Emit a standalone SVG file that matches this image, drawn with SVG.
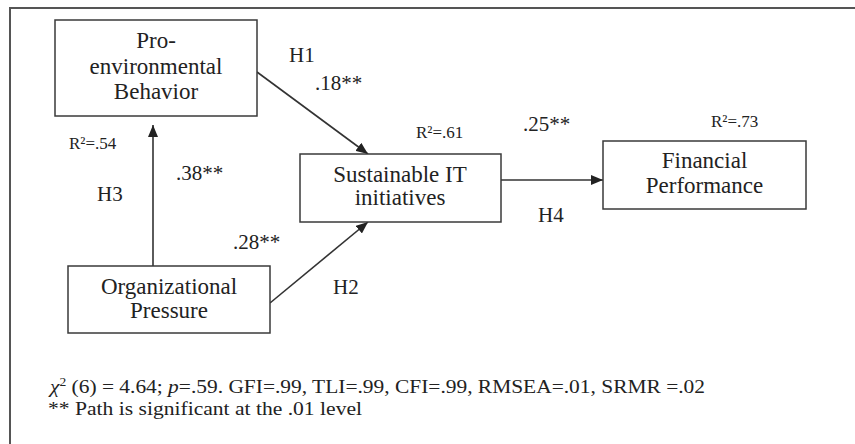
<svg xmlns="http://www.w3.org/2000/svg" width="855" height="444" viewBox="0 0 855 444">
<style>
.box{fill:#fff;stroke:#3a3a3a;stroke-width:1.5}
.nt{font-family:"Liberation Serif","Times New Roman",serif;font-size:23px;fill:#222;text-anchor:middle}
.lb{font-family:"Liberation Serif","Times New Roman",serif;font-size:21px;fill:#222}
.r2{font-family:"Liberation Serif","Times New Roman",serif;font-size:17px;fill:#222}
.ft{font-family:"Liberation Serif","Times New Roman",serif;font-size:19px;fill:#222}
.edge{stroke:#333;stroke-width:1.6;fill:none;marker-end:url(#ah)}
</style>
<defs>
<marker id="ah" viewBox="0 0 12 10" refX="12" refY="5" markerWidth="12" markerHeight="10" markerUnits="userSpaceOnUse" orient="auto">
<path d="M0,0 L12,5 L0,10 Z" fill="#222"/>
</marker>
</defs>
<rect width="855" height="444" fill="#fff"/>
<g id="frame">
<path d="M10,444 L10,8 L855,8" fill="none" stroke="#555" stroke-width="2"/>
</g>
<g id="connectors">
<line class="edge" x1="257" y1="72" x2="368" y2="154"/>
<line class="edge" x1="153" y1="266" x2="153" y2="125"/>
<line class="edge" x1="270" y1="303" x2="368" y2="222"/>
<line class="edge" x1="501" y1="180" x2="603" y2="180"/>
</g>
<g id="node-peb">
<rect class="box" x="55" y="20" width="202" height="96"/>
<text class="nt" x="156" y="48">Pro-</text>
<text class="nt" x="156" y="74">environmental</text>
<text class="nt" x="156" y="99">Behavior</text>
</g>
<g id="node-sit">
<rect class="box" x="300" y="154" width="201" height="68"/>
<text class="nt" x="400" y="182">Sustainable IT</text>
<text class="nt" x="400" y="205">initiatives</text>
</g>
<g id="node-fp">
<rect class="box" x="603" y="141" width="203" height="68"/>
<text class="nt" x="704.5" y="168">Financial</text>
<text class="nt" x="704.5" y="193">Performance</text>
</g>
<g id="node-op">
<rect class="box" x="68" y="266" width="202" height="67"/>
<text class="nt" x="169" y="294">Organizational</text>
<text class="nt" x="169" y="318">Pressure</text>
</g>
<g id="labels">
<text class="lb" x="289" y="62">H1</text>
<text class="lb" x="315" y="90">.18**</text>
<text class="lb" x="176" y="180">.38**</text>
<text class="lb" x="97" y="201">H3</text>
<text class="lb" x="233" y="249">.28**</text>
<text class="lb" x="333" y="294">H2</text>
<text class="lb" x="523" y="131">.25**</text>
<text class="lb" x="538" y="222">H4</text>
<text class="r2" x="69" y="149">R²=.54</text>
<text class="r2" x="416" y="138">R²=.61</text>
<text class="r2" x="711" y="127">R²=.73</text>
</g>
<g id="footer">
<text class="ft" x="50" y="393" textLength="655" lengthAdjust="spacingAndGlyphs"><tspan font-style="italic">χ</tspan><tspan font-size="12" dy="-7">2</tspan><tspan dy="7"> (6) = 4.64; </tspan><tspan font-style="italic">p</tspan>=.59. GFI=.99, TLI=.99, CFI=.99, RMSEA=.01, SRMR =.02</text>
<text class="ft" x="48" y="415" textLength="314" lengthAdjust="spacingAndGlyphs">** Path is significant at the .01 level</text>
</g>
</svg>
